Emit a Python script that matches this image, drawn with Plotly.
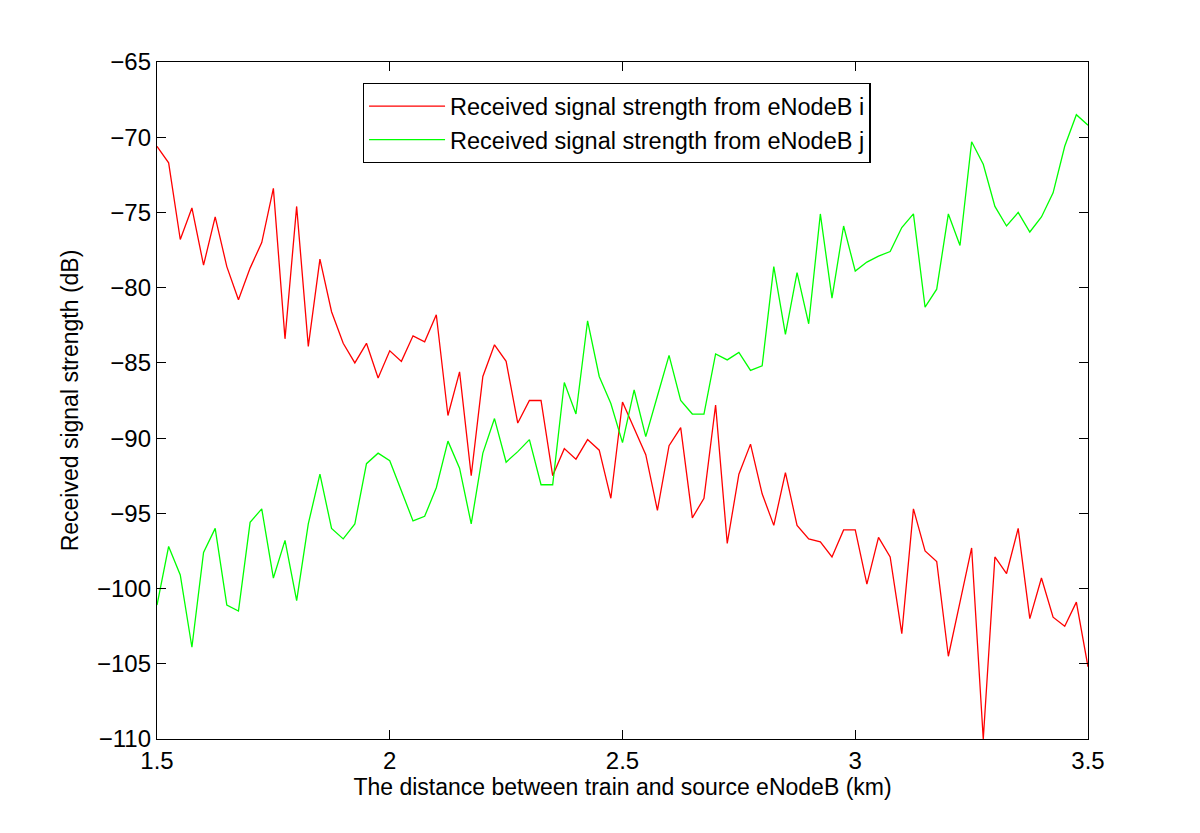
import plotly.graph_objects as go

# distance (km), 0.025 km step from 1.5 to 3.5
distance_km = [round(1.5 + 0.025 * k, 3) for k in range(81)]

signal_i = [-70.6, -71.7, -76.8, -74.7, -78.5, -75.3, -78.6, -80.8, -78.7, -77.0,
            -73.4, -83.4, -74.6, -83.9, -78.1, -81.6, -83.7, -85.0, -83.7, -86.0,
            -84.2, -84.9, -83.2, -83.6, -81.8, -88.5, -85.6, -92.5, -85.9, -83.8,
            -84.9, -89.0, -87.5, -87.5, -92.5, -90.7, -91.4, -90.1, -90.8, -94.0,
            -87.6, -89.3, -91.1, -94.8, -90.5, -89.3, -95.3, -94.0, -87.8, -97.0,
            -92.4, -90.4, -93.7, -95.8, -92.3, -95.8, -96.7, -96.9, -97.9, -96.1,
            -96.1, -99.7, -96.6, -97.9, -103.0, -94.7, -97.5, -98.2, -104.5, -100.9,
            -97.3, -110.0, -97.9, -99.0, -96.0, -102.0, -99.3, -101.9, -102.5, -100.9,
            -105.2]

signal_j = [-101.1, -97.2, -99.1, -103.9, -97.6, -96.0, -101.1, -101.5, -95.6, -94.7,
            -99.3, -96.8, -100.8, -95.7, -92.4, -96.0, -96.7, -95.7, -91.7, -91.0,
            -91.5, -93.5, -95.5, -95.2, -93.3, -90.2, -92.0, -95.7, -91.0, -88.7,
            -91.6, -90.9, -90.1, -93.1, -93.1, -86.3, -88.4, -82.2, -85.9, -87.7,
            -90.3, -86.8, -89.9, -87.2, -84.5, -87.5, -88.4, -88.4, -84.4, -84.8,
            -84.3, -85.5, -85.2, -78.6, -83.1, -79.0, -82.4, -75.1, -80.7, -75.9,
            -78.9, -78.3, -77.9, -77.6, -76.0, -75.1, -81.3, -80.1, -75.1, -77.2,
            -70.3, -71.8, -74.6, -75.9, -75.0, -76.3, -75.3, -73.7, -70.6, -68.5,
            -69.2]

x_ticks = [1.5, 2, 2.5, 3, 3.5]
x_tick_labels = ["1.5", "2", "2.5", "3", "3.5"]
y_ticks = [-110, -105, -100, -95, -90, -85, -80, -75, -70, -65]

FONT = "Liberation Sans, Arial, Helvetica, sans-serif"

fig = go.Figure()
fig.add_trace(go.Scatter(x=distance_km, y=signal_i, mode="lines",
                         line=dict(color="#ff0000", width=1.3),
                         name="Received signal strength from eNodeB i"))
fig.add_trace(go.Scatter(x=distance_km, y=signal_j, mode="lines",
                         line=dict(color="#00ff00", width=1.3),
                         name="Received signal strength from eNodeB j"))

axis_common = dict(showline=True, linecolor="black", linewidth=1.3, mirror="ticks",
                   ticks="inside", ticklen=9, tickcolor="black", tickwidth=1,
                   showgrid=False, zeroline=False,
                   tickfont=dict(family=FONT, size=24, color="black"))

fig.update_xaxes(range=[1.5, 3.5], tickvals=x_ticks, ticktext=x_tick_labels,
                 title=dict(text="The distance between train and source eNodeB (km)",
                            font=dict(family=FONT, size=23, color="black"), standoff=4),
                 **axis_common)
fig.update_yaxes(range=[-110, -65], tickvals=y_ticks,
                 title=dict(text="Received signal strength (dB)",
                            font=dict(family=FONT, size=23, color="black"), standoff=11),
                 **axis_common)

fig.update_layout(
    width=1200, height=833,
    margin=dict(l=149, r=120, t=54, b=102),
    paper_bgcolor="white", plot_bgcolor="white",
    font=dict(family=FONT, size=23, color="black"),
    legend=dict(x=0.221, y=0.969, xanchor="left", yanchor="top",
                bgcolor="white", bordercolor="black", borderwidth=1.3,
                font=dict(family=FONT, size=23.5, color="black"),
                itemwidth=76, tracegroupgap=0),
    showlegend=True,
)

fig.write_html("out.html")
